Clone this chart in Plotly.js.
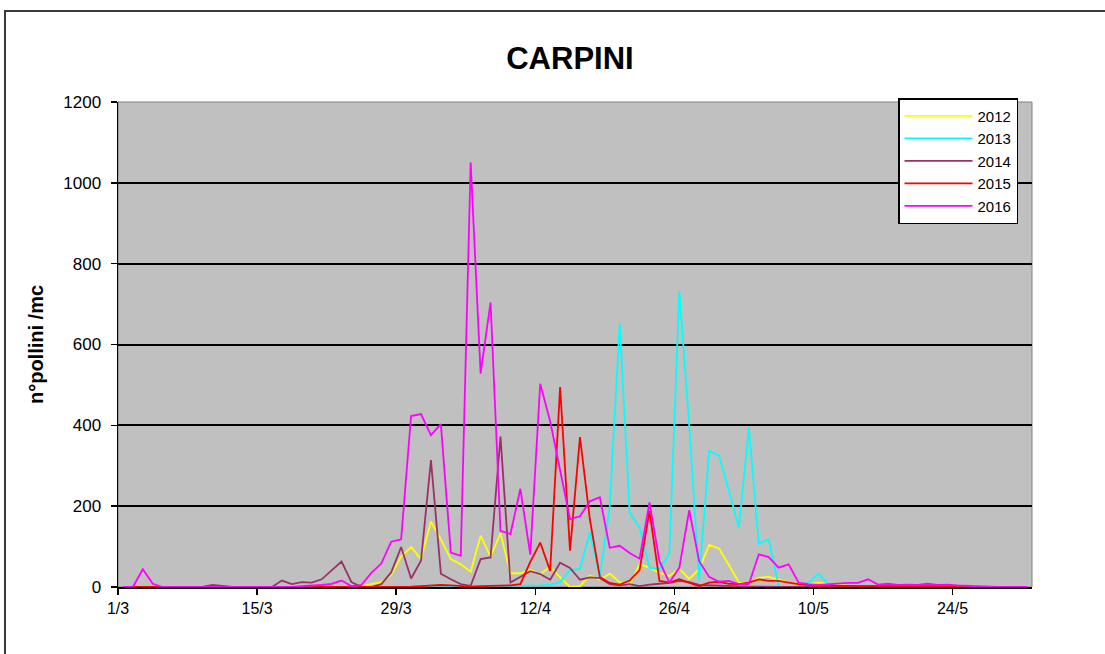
<!DOCTYPE html>
<html><head><meta charset="utf-8">
<script src="https://cdn.plot.ly/plotly-3.0.1.min.js"></script>
<style>
html,body{margin:0;padding:0;background:#fff;overflow:hidden;}
#chart{width:1105px;height:654px;position:absolute;left:0;top:0;}
#frame{position:absolute;left:4px;top:10px;width:1101px;height:644px;box-sizing:border-box;border-top:2px solid #3a3a3a;border-left:2px solid #3a3a3a;pointer-events:none;}
</style></head><body>
<div id="chart"></div><div id="frame"></div>
<script>
// Daily categories: 1 March .. 31 May (points sit at mid-day)
const months = [[3, 31], [4, 30], [5, 31]];
const dates = [];
for (const [m, len] of months) {
  for (let d = 1; d <= len; d++) {
    dates.push('2016-' + String(m).padStart(2, '0') + '-' + String(d).padStart(2, '0') + ' 12:00');
  }
}
const tickVals = ['2016-03-01', '2016-03-15', '2016-03-29', '2016-04-12', '2016-04-26', '2016-05-10', '2016-05-24'];
const tickLabels = ['1/3', '15/3', '29/3', '12/4', '26/4', '10/5', '24/5'];

const seriesNames = ['2012', '2013', '2014', '2015', '2016'];

const y2012 = [0,0,0,0,0,0,0,0,0,0, 0,0,0,0,0,0,0,0,0,0, 0,0,0,0,3,7,12,30,75,99,
  69,162,118,69,56,38,127,75,133,34, 34,43,31,51,24,0,2,28,18,33, 12,5,56,48,35,27,45,20,44,104,
  95,54,11,7,23,25,19,11,8,7, 11,8,5,3,2,2,1,0,0,0, 0,0,0,0,0,0,0,0,0,0, 0,0];

const y2013 = [0,0,0,0,0,0,0,0,0,0, 0,0,0,0,0,0,0,0,0,0, 0,0,0,0,0,0,0,0,0,0,
  2,3,2,1,1,1,1,2,3,3, 3,3,4,6,12,42,45,135,25,200, 652,185,147,48,44,83,732,400,17,337,
  325,238,147,395,107,118,2,0,2,11, 33,7,3,2,1,0,0,0,0,0, 0,0,0,0,0,0,0,0,0,0, 0,0];

const y2014 = [0,0,0,0,0,0,0,0,0,5, 2,0,0,0,0,0,16,7,12,11, 19,40,63,12,0,0,7,36,99,21,
  65,314,33,19,7,3,69,73,372,11, 25,39,32,18,60,47,18,24,22,7, 4,7,2,6,8,10,15,12,5,4,
  3,2,2,1,1,0,0,0,0,0, 0,0,0,0,0,0,0,0,0,0, 0,0,0,0,0,0,0,0,0,0, 0,0];

const y2015 = [0,0,0,0,0,0,0,0,0,0, 0,0,0,0,0,0,0,0,0,0, 0,0,0,0,0,0,0,1,1,1,
  2,4,5,4,2,1,2,3,4,4, 7,62,110,40,495,90,371,167,25,10, 6,16,42,188,15,11,19,11,2,11,
  13,8,7,11,19,15,15,11,7,5, 3,3,3,3,2,2,2,2,2,2, 2,2,2,2,2,1,1,0,0,0, 0,0];

const y2016 = [0,0,44,8,0,0,0,0,0,0, 0,0,0,0,0,0,0,0,2,3, 5,8,16,2,5,35,58,112,118,423,
  428,376,403,85,77,1050,528,704,139,131, 243,80,503,410,290,168,175,212,222,97, 102,84,70,209,64,11,48,190,64,25,
  13,15,7,7,81,74,48,56,11,7, 5,7,8,10,10,19,6,8,5,6, 5,8,5,6,4,3,2,0,0,0, 0,0];

const seriesValues = [y2012, y2013, y2014, y2015, y2016];
const seriesColors = ['#FFFF00', '#00FFFF', '#993366', '#FF0000', '#FF00FF'];

const traces = seriesNames.map((name, i) => ({
  type: 'scatter', mode: 'lines', name: name,
  x: dates, y: seriesValues[i],
  line: {color: seriesColors[i], width: 1.8}
}));

const layout = {
  width: 1105, height: 654,
  margin: {l: 118, r: 73, t: 102, b: 67, pad: 0},
  paper_bgcolor: 'rgba(0,0,0,0)',
  plot_bgcolor: '#C0C0C0',
  font: {family: '"Liberation Sans", Arial, sans-serif', color: '#000', size: 16},
  title: {text: '<b>CARPINI</b>', font: {size: 31}, x: 0.4945, xref: 'paper', xanchor: 'center', y: 0.911, yref: 'container', yanchor: 'middle'},
  showlegend: true,
  legend: {x: 0.8534, y: 1.008, xanchor: 'left', yanchor: 'top', bgcolor: '#FFFFFF', bordercolor: '#000000', borderwidth: 1.5, font: {size: 15}, itemwidth: 68, entrywidth: 70, entrywidthmode: 'pixels'},
  xaxis: {
    type: 'date', range: ['2016-03-01', '2016-06-01'],
    tickmode: 'array', tickvals: tickVals, ticktext: tickLabels,
    ticks: 'outside', ticklen: 6, tickwidth: 1.5, tickcolor: '#000',
    showline: true, linecolor: '#000', linewidth: 1.5,
    showgrid: false, zeroline: false, tickfont: {size: 16}, fixedrange: true
  },
  yaxis: {
    range: [0, 1200], tick0: 0, dtick: 200,
    ticks: 'outside', ticklen: 6, tickwidth: 1.5, tickcolor: '#000',
    showline: true, linecolor: '#000', linewidth: 1.5,
    showgrid: true, gridcolor: '#000', gridwidth: 2, zeroline: false,
    tickfont: {size: 17}, ticklabelstandoff: 6,
    title: {text: '<b>n°pollini /mc</b>', font: {size: 20}, standoff: 14},
    fixedrange: true
  },
  shapes: [{type: 'rect', xref: 'paper', yref: 'paper', x0: 0, x1: 1, y0: 0, y1: 1, line: {color: '#808080', width: 1}, layer: 'below'}]
};

Plotly.newPlot('chart', traces, layout, {displayModeBar: false, staticPlot: true});
</script></body></html>
